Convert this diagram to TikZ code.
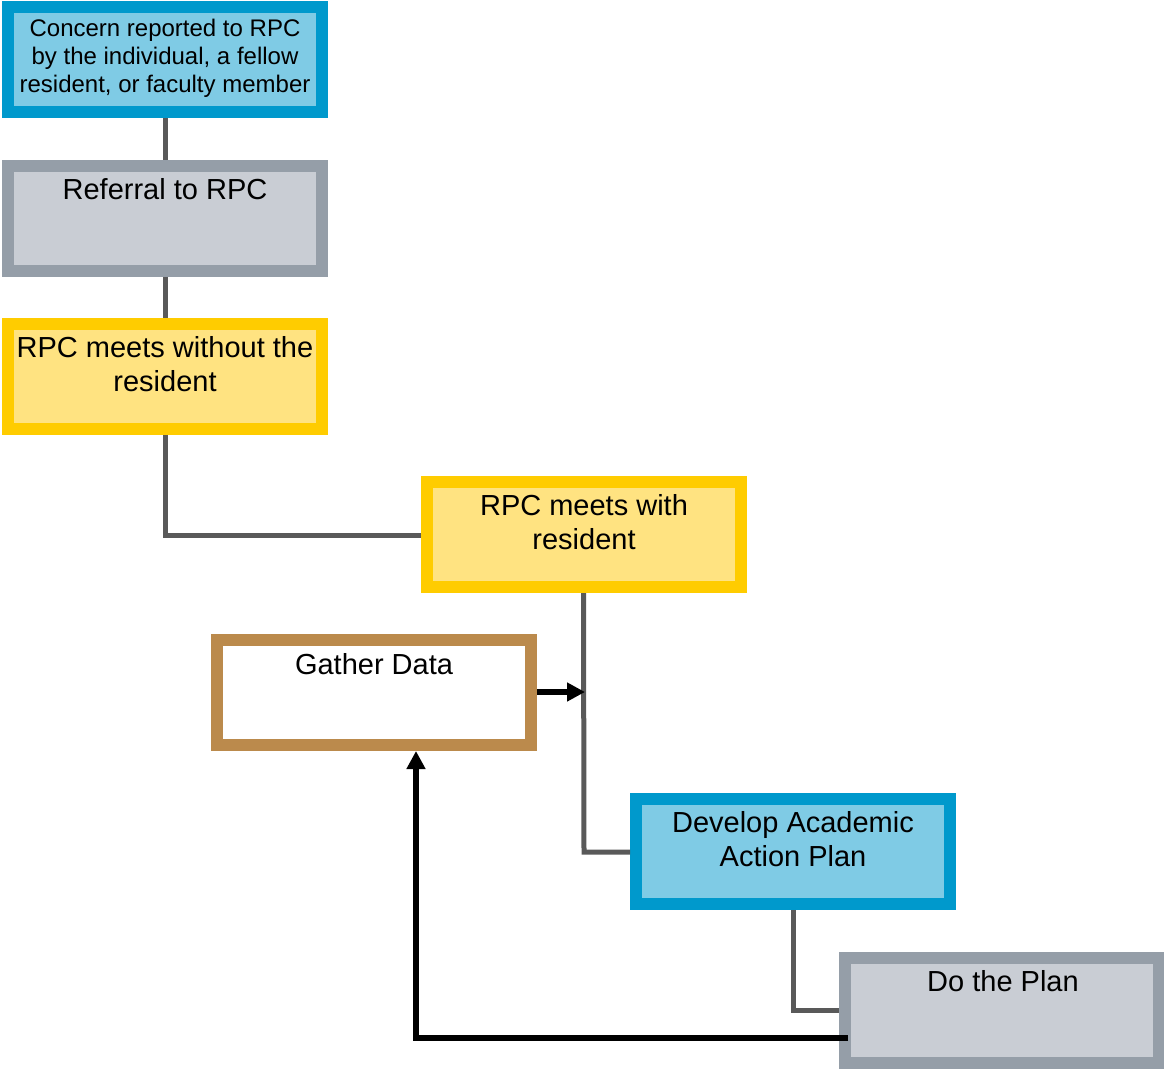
\documentclass[tikz,border=0pt]{standalone}
\usepackage{fontspec}
\setmainfont{Liberation Sans}
\usetikzlibrary{arrows.meta}
\definecolor{bluebd}{HTML}{0099CC}
\definecolor{bluefl}{HTML}{7FCBE5}
\definecolor{graybd}{HTML}{959EA8}
\definecolor{grayfl}{HTML}{C9CDD4}
\definecolor{yelbd}{HTML}{FFCC00}
\definecolor{yelfl}{HTML}{FFE381}
\definecolor{brownbd}{HTML}{BB8A4C}
\definecolor{conn}{HTML}{595959}
\tikzset{
  boxbase/.style={rectangle, line width=12pt, minimum width=314pt, minimum height=105pt, inner sep=0pt},
  bluebox/.style={boxbase, draw=bluebd, fill=bluefl},
  graybox/.style={boxbase, draw=graybd, fill=grayfl},
  yelbox/.style={boxbase, draw=yelbd, fill=yelfl},
  brownbox/.style={boxbase, draw=brownbd, fill=white},
  bigtxt/.style={anchor=north, align=center, inner sep=0pt, font=\fontsize{29pt}{34pt}\selectfont},
  smalltxt/.style={anchor=north, align=center, inner sep=0pt, font=\fontsize{24pt}{28pt}\selectfont},
  gline/.style={draw=conn, line width=5pt},
  bline/.style={draw=black, line width=5.5pt, -{Triangle[length=18pt,width=18pt]}},
}
\begin{document}
\begin{tikzpicture}[x=1pt,y=-1pt]
\useasboundingbox (0,0) rectangle (1164,1068);
% boxes
\node[bluebox] (concern) at (165,59.5) {};
\node[graybox] (referral) at (165,218) {};
\node[yelbox] (without) at (165,376) {};
\node[yelbox] (with) at (583.5,534.5) {};
\node[brownbox] (gather) at (374,692.5) {};
\node[bluebox] (develop) at (793,851.5) {};
\node[graybox] (doplan) at (1002,1010) {};
% texts
\node[smalltxt] (t1) at (165,18.6) {Concern reported to RPC\\by the individual, a fellow\\resident, or faculty member};
\node[bigtxt] (t2) at (165,178.6) {Referral to RPC};
\node[bigtxt] (t3) at (165,336.6) {RPC meets without the\\resident};
\node[bigtxt] (t4) at (584,494.6) {RPC meets with\\resident};
\node[bigtxt] (t5) at (374,653.6) {Gather Data};
\node[bigtxt] (t6) at (793,811.6) {Develop Academic\\Action Plan};
\node[bigtxt] (t7) at (1003,970.6) {Do the Plan};
% coordinates
\coordinate (j1) at (585,692);
\coordinate (c1) at (165,535);
\coordinate (c2) at (584,852);
\coordinate (c3) at (793,1010);
\coordinate (c4) at (848,1038);
\coordinate (c5) at (416,1038);
% gray connectors
\draw[gline] (concern.south) -- (referral.north);
\draw[gline] (referral.south) -- (without.north);
\draw[gline] (without.south) -- (c1) -- (with.west |- c1);
\draw[gline] (with.south) -- (c2) -- (develop.west |- c2);
\draw[gline] (develop.south) -- (c3) -- (doplan.west |- c3);
% black arrows
\draw[bline] (gather.east |- j1) -- (j1);
\draw[bline] (c4) -- (c5) -- (c5 |- gather.south);
\end{tikzpicture}
\end{document}
